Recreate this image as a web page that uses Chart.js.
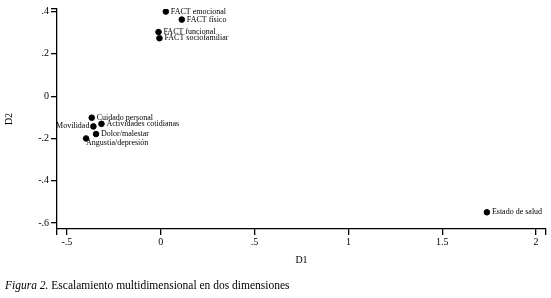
<!DOCTYPE html>
<html>
<head>
<meta charset="utf-8">
<script src="https://cdn.jsdelivr.net/npm/chart.js@4"></script>
<style>
  body { margin: 0; background: #fff; }
  #wrap { width: 551px; height: 298px; position: relative; }
</style>
</head>
<body>
<div id="wrap"><canvas id="mds"></canvas></div>
<script>
// categories and coordinates on the two dimensions
var labels = ["FACT emocional", "FACT físico", "FACT funcional", "FACT sociofamiliar",
  "Cuidado personal", "Movilidad", "Actividades cotidianas", "Dolor/malestar",
  "Angustia/depresión", "Estado de salud"];
var d1 = [0.027, 0.112, -0.012, -0.007, -0.368, -0.359, -0.316, -0.345, -0.398, 1.738];
var d2 = [0.400, 0.362, 0.303, 0.274, -0.102, -0.143, -0.131, -0.179, -0.200, -0.549];
// where each label sits: r = right, l = left, b = below
var labelSide = ["r", "r", "r", "r", "r", "l", "r", "r", "b", "r"];

var xTicks = [-0.5, 0, 0.5, 1, 1.5, 2];
var yTicks = [-0.6, -0.4, -0.2, 0, 0.2, 0.4];

var serif = "'Liberation Serif', 'DejaVu Serif', serif";

function fmt(v) {
  var s = String(Math.round(v * 10) / 10);
  return s.replace(/^0\./, ".").replace(/^-0\./, "-.");
}

var points = d1.map(function (x, i) { return { x: x, y: d2[i] }; });

var pointLabels = {
  id: "pointLabels",
  afterDatasetsDraw: function (chart) {
    var c = chart.ctx;
    var meta = chart.getDatasetMeta(0);
    c.save();
    c.fillStyle = "#000";
    c.font = "8px " + serif;
    meta.data.forEach(function (el, i) {
      var side = labelSide[i];
      if (side === "l") {
        c.textAlign = "right"; c.textBaseline = "middle";
        c.fillText(labels[i], el.x - 4, el.y);
      } else if (side === "b") {
        c.textAlign = "left"; c.textBaseline = "middle";
        c.fillText(labels[i], el.x, el.y + 4);
      } else {
        c.textAlign = "left"; c.textBaseline = "middle";
        c.fillText(labels[i], el.x + 5, el.y);
      }
    });
    // axis titles
    var area = chart.chartArea;
    c.font = "10px " + serif;
    c.textAlign = "center"; c.textBaseline = "middle";
    c.fillText("D1", (area.left + area.right) / 2, 260);
    c.save();
    c.translate(9, (area.top + area.bottom) / 2);
    c.rotate(-Math.PI / 2);
    c.fillText("D2", 0, 0);
    c.restore();
    // caption
    c.textAlign = "left"; c.textBaseline = "middle";
    c.font = "italic 11.5px " + serif;
    var fig = "Figura 2.";
    c.fillText(fig, 5, 286);
    var w = c.measureText(fig).width;
    c.font = "11.5px " + serif;
    c.fillText(" Escalamiento multidimensional en dos dimensiones", 5 + w, 286);
    c.restore();
  }
};

new Chart(document.getElementById("mds").getContext("2d"), {
  type: "scatter",
  data: {
    datasets: [{
      data: points,
      backgroundColor: "#000",
      borderColor: "#000",
      pointRadius: 2.8,
      pointHoverRadius: 2.8
    }]
  },
  options: {
    responsive: true,
    maintainAspectRatio: false,
    animation: false,
    events: [],
    layout: { padding: { top: 9, right: 5, left: 0, bottom: 0 } },
    plugins: { legend: { display: false }, tooltip: { enabled: false } },
    scales: {
      x: {
        type: "linear",
        min: -0.553,
        max: 2.053,
        afterFit: function (s) { s.height = 69; },
        afterBuildTicks: function (s) {
          s.ticks = [s.min].concat(xTicks, [s.max]).map(function (v) { return { value: v }; });
        },
        ticks: {
          color: "#000",
          font: { family: serif, size: 10 },
          padding: 1,
          maxRotation: 0,
          autoSkip: false,
          callback: function (v) { return xTicks.indexOf(v) >= 0 ? fmt(v) : ""; }
        },
        grid: { drawOnChartArea: false, tickLength: 6, color: "#000", lineWidth: 1.3 },
        border: { color: "#000", width: 1.3 }
      },
      y: {
        type: "linear",
        min: -0.628,
        max: 0.412,
        afterFit: function (s) { s.width = 57; },
        afterBuildTicks: function (s) {
          s.ticks = [s.max].concat(yTicks).map(function (v) { return { value: v }; });
        },
        ticks: {
          color: "#000",
          font: { family: serif, size: 10 },
          padding: 2,
          autoSkip: false,
          callback: function (v) { return yTicks.indexOf(v) >= 0 ? fmt(v) : ""; }
        },
        grid: { drawOnChartArea: false, tickLength: 6, color: "#000", lineWidth: 1.3 },
        border: { color: "#000", width: 1.3 }
      }
    }
  },
  plugins: [pointLabels]
});
</script>
</body>
</html>
